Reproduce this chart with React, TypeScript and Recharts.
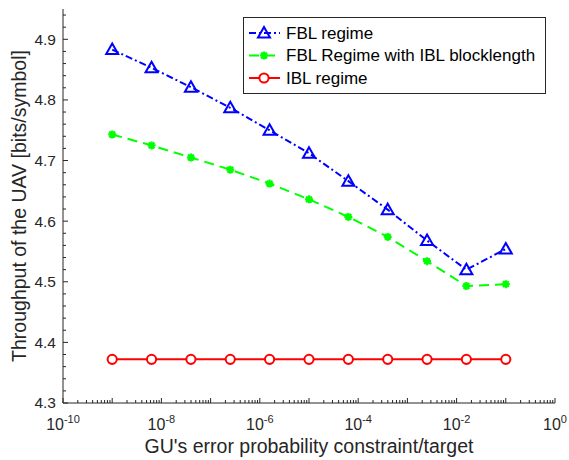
import { LineChart, Line, XAxis, YAxis, Legend } from 'recharts'

// error-probability targets (x, log axis)
const X_VALUES = [1e-9, 6.31e-9, 3.98e-8, 2.51e-7, 1.58e-6, 1e-5, 6.31e-5, 3.98e-4, 2.51e-3, 1.58e-2, 1e-1]

// throughput [bits/symbol]
const FBL = [4.883, 4.853, 4.821, 4.787, 4.75, 4.712, 4.666, 4.619, 4.568, 4.52, 4.554]
const FBL_IBL = [4.743, 4.725, 4.705, 4.685, 4.662, 4.636, 4.607, 4.574, 4.534, 4.493, 4.496]
const IBL = [4.372, 4.372, 4.372, 4.372, 4.372, 4.372, 4.372, 4.372, 4.372, 4.372, 4.372]

const SERIES_NAMES = ['FBL regime', 'FBL Regime with IBL blocklength', 'IBL regime']

const X_DECADES = [1e-10, 1e-9, 1e-8, 1e-7, 1e-6, 1e-5, 1e-4, 1e-3, 1e-2, 1e-1, 1]
const X_LABELED = [1e-10, 1e-8, 1e-6, 1e-4, 1e-2, 1]
const X_EXPONENTS = ['-10', '-8', '-6', '-4', '-2', '0']
const MINOR_MULT = [2, 3, 4, 5, 6, 7, 8, 9]

const Y_MAJOR = [4.3, 4.4, 4.5, 4.6, 4.7, 4.8, 4.9]
const Y_MINOR = [
  4.32, 4.34, 4.36, 4.38, 4.42, 4.44, 4.46, 4.48, 4.52, 4.54, 4.56, 4.58,
  4.62, 4.64, 4.66, 4.68, 4.72, 4.74, 4.76, 4.78, 4.82, 4.84, 4.86, 4.88, 4.92, 4.94,
]

const X_TICKS = [
  ...X_DECADES,
  ...X_DECADES.slice(0, -1).flatMap((d) => MINOR_MULT.map((m) => m * d)),
].sort((a, b) => a - b)
const Y_TICKS = [...Y_MAJOR, ...Y_MINOR].sort((a, b) => a - b)

const rows = X_VALUES.map((x, i) => ({ x, fbl: FBL[i], fblIbl: FBL_IBL[i], ibl: IBL[i] }))

const INK = '#262626'
const BLUE = '#0000ff'
const GREEN = '#00ff00'
const RED = '#ff0000'
const FONT = '"Liberation Sans", Arial, Helvetica, sans-serif'

function Triangle({ cx, cy }: { cx: number; cy: number }) {
  return (
    <path
      d={`M${cx},${cy - 6} L${cx + 6},${cy + 4.5} L${cx - 6},${cy + 4.5} Z`}
      fill="none"
      stroke={BLUE}
      strokeWidth={2}
      strokeLinejoin="miter"
    />
  )
}

function Asterisk({ cx, cy }: { cx: number; cy: number }) {
  const r = 4
  const d = r * 0.72
  return (
    <path
      d={`M${cx - r},${cy} L${cx + r},${cy} M${cx},${cy - r} L${cx},${cy + r} M${cx - d},${cy - d} L${cx + d},${cy + d} M${cx - d},${cy + d} L${cx + d},${cy - d}`}
      stroke={GREEN}
      strokeWidth={2.2}
      fill="none"
    />
  )
}

function Circle({ cx, cy }: { cx: number; cy: number }) {
  return <circle cx={cx} cy={cy} r={4.6} fill="#fff" stroke={RED} strokeWidth={2} />
}

function XTick(props: any) {
  const { x, y, payload, top } = props
  const v = payload.value
  const major = X_DECADES.includes(v)
  const len = major ? 5 : 3
  const li = X_LABELED.indexOf(v)
  return (
    <g>
      <line x1={x} x2={x} y1={y} y2={top ? y + len : y - len} stroke={INK} strokeWidth={1} />
      {!top && li >= 0 && (
        <text x={x} y={y + 27} textAnchor="middle" fontSize={16} fill={INK} fontFamily={FONT}>
          10
          <tspan dy={-7} fontSize={11}>
            {X_EXPONENTS[li]}
          </tspan>
        </text>
      )}
    </g>
  )
}

function YTick(props: any) {
  const { x, y, payload, right } = props
  const v = payload.value
  const major = Y_MAJOR.includes(v)
  const len = major ? 5 : 3
  return (
    <g>
      <line x1={x} x2={right ? x - len : x + len} y1={y} y2={y} stroke={INK} strokeWidth={1} />
      {!right && major && (
        <text x={x - 7} y={y} dy="0.35em" textAnchor="end" fontSize={15.5} fill={INK} fontFamily={FONT}>
          {v.toFixed(1)}
        </text>
      )}
    </g>
  )
}

function LegendBox() {
  const rowsY = [16, 38.5, 61]
  const markers = [
    <Triangle key="t" cx={21} cy={rowsY[0]} />,
    <Asterisk key="a" cx={21} cy={rowsY[1]} />,
    <Circle key="c" cx={21} cy={rowsY[2]} />,
  ]
  const strokes = [BLUE, GREEN, RED]
  const dashes = ['7 3 2 3', '10 6', undefined]
  return (
    <svg width={303} height={77} style={{ display: 'block' }}>
      <rect x={0.5} y={0.5} width={302} height={76} fill="#fff" stroke={INK} strokeWidth={1} />
      {SERIES_NAMES.map((name, i) => (
        <g key={name}>
          <line x1={6} x2={37} y1={rowsY[i]} y2={rowsY[i]} stroke={strokes[i]} strokeWidth={2} strokeDasharray={dashes[i]} />
          {markers[i]}
          <text x={43} y={rowsY[i]} dy="0.35em" fontSize={17} fill="#000" fontFamily={FONT}>
            {name}
          </text>
        </g>
      ))}
    </svg>
  )
}

export default function App() {
  return (
    <div style={{ position: 'absolute', left: 0, top: 0, width: 569, height: 460, background: '#fff', fontFamily: FONT }}>
      <LineChart width={569} height={460} data={rows} margin={{ top: 9, right: 14, bottom: 0, left: 0 }}>
        <XAxis
          dataKey="x"
          type="number"
          scale="log"
          domain={[1e-10, 1]}
          allowDataOverflow
          ticks={X_TICKS}
          interval={0}
          tick={<XTick />}
          tickLine={false}
          tickSize={0}
          tickMargin={0}
          height={57}
          axisLine={{ stroke: INK, strokeWidth: 1 }}
          label={{
            content: ({ viewBox }: any) => (
              <text x={viewBox.x + viewBox.width / 2} y={453} textAnchor="middle" fontSize={19.5} fill={INK} fontFamily={FONT}>
                GU's error probability constraint/target
              </text>
            ),
          }}
        />
        <XAxis
          xAxisId="top"
          orientation="top"
          dataKey="x"
          type="number"
          scale="log"
          domain={[1e-10, 1]}
          allowDataOverflow
          ticks={X_TICKS}
          interval={0}
          tick={<XTick top />}
          tickLine={false}
          tickSize={0}
          tickMargin={0}
          height={0}
          axisLine={{ stroke: INK, strokeWidth: 1 }}
        />
        <YAxis
          type="number"
          domain={[4.3, 4.95]}
          allowDataOverflow
          ticks={Y_TICKS}
          interval={0}
          tick={<YTick />}
          tickLine={false}
          tickSize={0}
          tickMargin={0}
          width={63}
          axisLine={{ stroke: INK, strokeWidth: 1 }}
          label={{
            content: ({ viewBox }: any) => {
              const cy = viewBox.y + viewBox.height / 2
              return (
                <text x={19} y={cy} transform={`rotate(-90 19 ${cy})`} dy="0.35em" textAnchor="middle" fontSize={19.5} fill={INK} fontFamily={FONT}>
                  Throughput of the UAV [bits/symbol]
                </text>
              )
            },
          }}
        />
        <YAxis
          yAxisId="right"
          orientation="right"
          type="number"
          domain={[4.3, 4.95]}
          allowDataOverflow
          ticks={Y_TICKS}
          interval={0}
          tick={<YTick right />}
          tickLine={false}
          tickSize={0}
          tickMargin={0}
          width={0}
          axisLine={{ stroke: INK, strokeWidth: 1 }}
        />
        <Line
          dataKey="ibl"
          name={SERIES_NAMES[2]}
          stroke={RED}
          strokeWidth={2}
          dot={(p: any) => <Circle key={`c${p.index}`} cx={p.cx} cy={p.cy} />}
          activeDot={false}
          isAnimationActive={false}
        />
        <Line
          dataKey="fblIbl"
          name={SERIES_NAMES[1]}
          stroke={GREEN}
          strokeWidth={2}
          strokeDasharray="10 6"
          dot={(p: any) => <Asterisk key={`a${p.index}`} cx={p.cx} cy={p.cy} />}
          activeDot={false}
          isAnimationActive={false}
        />
        <Line
          dataKey="fbl"
          name={SERIES_NAMES[0]}
          stroke={BLUE}
          strokeWidth={2}
          strokeDasharray="7 3 2 3"
          dot={(p: any) => <Triangle key={`t${p.index}`} cx={p.cx} cy={p.cy} />}
          activeDot={false}
          isAnimationActive={false}
        />
        <Legend
          layout="vertical"
          align="center"
          verticalAlign="middle"
          content={() => <LegendBox />}
          wrapperStyle={{ position: 'absolute', left: 243, top: 17, width: 303, height: 77 }}
        />
      </LineChart>
    </div>
  )
}
